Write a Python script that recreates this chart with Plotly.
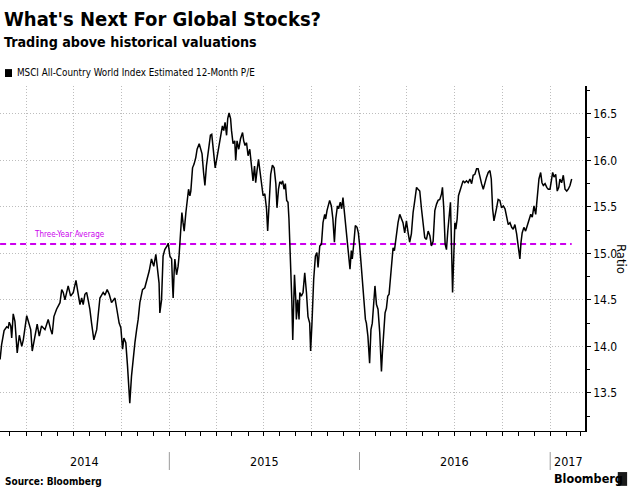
import pandas as pd
import plotly.graph_objs as go

# MSCI ACWI estimated 12-month P/E (time as fractional year)
frac_year = [
    2014.110, 2014.118, 2014.131, 2014.145, 2014.153, 2014.158, 2014.166, 2014.171, 2014.179, 2014.188,
    2014.200, 2014.211, 2014.224, 2014.232, 2014.250, 2014.263, 2014.271, 2014.279, 2014.293, 2014.305,
    2014.316, 2014.328, 2014.346, 2014.363, 2014.376, 2014.384, 2014.393, 2014.407, 2014.425, 2014.434,
    2014.442, 2014.451, 2014.468, 2014.481, 2014.495, 2014.509, 2014.521, 2014.530, 2014.539, 2014.547,
    2014.556, 2014.565, 2014.573, 2014.582, 2014.591, 2014.603, 2014.618, 2014.635, 2014.652, 2014.661,
    2014.673, 2014.684, 2014.696, 2014.705, 2014.714, 2014.723, 2014.736, 2014.745, 2014.754, 2014.761,
    2014.771, 2014.780, 2014.792, 2014.801, 2014.810, 2014.819, 2014.828, 2014.836, 2014.845, 2014.859,
    2014.871, 2014.883, 2014.894, 2014.906, 2014.918, 2014.929, 2014.940, 2014.946,
    2014.950, 2014.959, 2014.967, 2014.976, 2014.988, 2014.994, 2015.003, 2015.012, 2015.017, 2015.020,
    2015.025, 2015.029, 2015.038, 2015.046, 2015.051, 2015.059, 2015.066, 2015.072, 2015.078, 2015.087,
    2015.093, 2015.101, 2015.108, 2015.113, 2015.122, 2015.130, 2015.139, 2015.146, 2015.157, 2015.164,
    2015.172, 2015.180, 2015.187, 2015.195, 2015.206, 2015.216, 2015.223, 2015.232, 2015.241, 2015.248,
    2015.256, 2015.265, 2015.272, 2015.279, 2015.286, 2015.293, 2015.301, 2015.307, 2015.314, 2015.322,
    2015.327, 2015.335, 2015.344, 2015.349, 2015.356, 2015.365, 2015.374, 2015.385, 2015.391, 2015.398,
    2015.406, 2015.414, 2015.423, 2015.432, 2015.440, 2015.448, 2015.454, 2015.461, 2015.469, 2015.475,
    2015.484, 2015.493, 2015.502, 2015.511, 2015.517, 2015.524, 2015.533, 2015.542, 2015.551, 2015.560,
    2015.566, 2015.574, 2015.581, 2015.589, 2015.596, 2015.603, 2015.610, 2015.617, 2015.624, 2015.629,
    2015.637, 2015.644, 2015.649, 2015.658, 2015.665, 2015.668, 2015.675, 2015.682,
    2015.686, 2015.694, 2015.703, 2015.712, 2015.721, 2015.729, 2015.738, 2015.743, 2015.750, 2015.759,
    2015.768, 2015.776, 2015.782, 2015.791, 2015.800, 2015.808, 2015.817, 2015.822, 2015.829, 2015.838,
    2015.843, 2015.852, 2015.860, 2015.868, 2015.875, 2015.884, 2015.890, 2015.899, 2015.906, 2015.913,
    2015.920, 2015.927, 2015.936, 2015.944, 2015.950, 2015.957, 2015.962, 2015.971, 2015.978, 2015.987,
    2015.994, 2016.001, 2016.008, 2016.015, 2016.023, 2016.031, 2016.036, 2016.044, 2016.053, 2016.060,
    2016.067, 2016.074, 2016.081, 2016.089, 2016.097, 2016.106, 2016.115, 2016.120, 2016.127, 2016.134,
    2016.141, 2016.148, 2016.155, 2016.162, 2016.169, 2016.176, 2016.183, 2016.194, 2016.202, 2016.211,
    2016.220, 2016.228, 2016.237, 2016.246, 2016.255, 2016.263, 2016.272, 2016.281, 2016.290, 2016.299,
    2016.307,
    2016.316, 2016.325, 2016.333, 2016.342, 2016.351, 2016.360, 2016.369, 2016.377, 2016.386, 2016.395,
    2016.404, 2016.412, 2016.421, 2016.430, 2016.435, 2016.442, 2016.449, 2016.456, 2016.463, 2016.470,
    2016.477, 2016.483, 2016.488, 2016.495, 2016.500, 2016.505, 2016.512, 2016.519, 2016.526, 2016.535,
    2016.543, 2016.552, 2016.561, 2016.570, 2016.579, 2016.588, 2016.596, 2016.605, 2016.614, 2016.622,
    2016.631, 2016.640, 2016.649, 2016.657, 2016.666, 2016.675, 2016.684, 2016.691, 2016.698, 2016.705,
    2016.712, 2016.719, 2016.727, 2016.736, 2016.745, 2016.754, 2016.763, 2016.771, 2016.780, 2016.789,
    2016.798, 2016.806, 2016.815, 2016.824, 2016.832, 2016.841, 2016.847, 2016.853, 2016.862, 2016.871,
    2016.880, 2016.889, 2016.898, 2016.906, 2016.915, 2016.924, 2016.932, 2016.941, 2016.950, 2016.957,
    2016.964, 2016.973, 2016.982, 2016.990, 2016.999, 2017.008, 2017.013, 2017.020, 2017.029, 2017.037,
    2017.045, 2017.051, 2017.060, 2017.069, 2017.078, 2017.087, 2017.095, 2017.104, 2017.113,
]

pe_ratio = [
    13.86, 14.02, 14.17, 14.21, 14.20, 14.26, 14.22, 14.09, 14.35, 14.27,
    13.93, 14.12, 14.00, 14.07, 14.33, 14.24, 14.18, 13.95, 14.11, 14.24,
    14.11, 14.22, 14.18, 14.29, 14.18, 14.13, 14.32, 14.40, 14.47, 14.61,
    14.58, 14.50, 14.65, 14.54, 14.58, 14.71, 14.56, 14.45, 14.52, 14.45,
    14.56, 14.58, 14.50, 14.40, 14.25, 14.07, 14.18, 14.52, 14.58, 14.55,
    14.61, 14.56, 14.47, 14.50, 14.52, 14.41, 14.25, 14.20, 13.97, 14.09,
    14.04, 13.79, 13.39, 13.68, 13.88, 14.04, 14.18, 14.29, 14.47, 14.61,
    14.63, 14.72, 14.81, 14.94, 14.86, 14.99, 14.77, 14.68,
    14.36, 14.50, 14.97, 15.04, 15.08, 15.11, 14.97, 14.94, 14.65, 14.52,
    14.79, 14.94, 14.77, 14.86, 14.97, 15.30, 15.44, 15.33, 15.24, 15.44,
    15.58, 15.69, 15.62, 15.67, 15.92, 15.96, 16.03, 16.12, 16.18, 16.13,
    16.07, 15.87, 15.73, 15.94, 16.09, 16.27, 16.28, 16.09, 15.92, 16.00,
    16.09, 16.21, 16.27, 16.37, 16.32, 16.41, 16.27, 16.45, 16.51, 16.45,
    16.32, 16.18, 16.21, 16.00, 16.21, 16.12, 16.23, 16.30, 16.21, 16.16,
    16.19, 16.05, 16.12, 15.89, 15.78, 15.94, 15.76, 15.89, 16.01, 15.91,
    15.78, 15.62, 15.64, 15.48, 15.24, 15.51, 15.85, 15.95, 15.92, 15.75,
    15.49, 15.69, 15.77, 15.75, 15.78, 15.69, 15.75, 15.57, 15.55, 15.37,
    14.97, 14.50, 14.07, 14.77, 14.50, 14.29, 14.50, 14.29,
    14.58, 14.54, 14.58, 14.79, 14.58, 14.32, 14.25, 13.95, 14.25, 14.72,
    14.97, 15.01, 14.85, 15.08, 15.10, 15.33, 15.42, 15.37, 15.46, 15.53,
    15.57, 15.51, 15.37, 15.12, 15.37, 15.51, 15.48, 15.55, 15.48, 15.60,
    15.46, 15.30, 15.17, 14.97, 14.83, 15.03, 14.94, 15.13, 15.30, 15.28,
    15.22, 15.08, 14.88, 14.72, 14.43, 14.29, 14.25, 14.11, 13.82, 14.18,
    14.25, 14.47, 14.65, 14.45, 14.40, 14.15, 13.73, 13.93, 14.18, 14.36,
    14.41, 14.54, 14.56, 14.72, 14.90, 15.06, 15.03, 15.22, 15.33, 15.42,
    15.37, 15.33, 15.22, 15.35, 15.22, 15.12, 15.21, 15.44, 15.57, 15.71,
    15.69,
    15.67, 15.48, 15.33, 15.17, 15.15, 15.24, 15.19, 15.08, 15.13, 15.46,
    15.53, 15.57, 15.58, 15.64, 15.71, 15.48, 15.10, 15.04, 15.24, 15.37,
    15.55, 15.03, 14.58, 15.01, 15.33, 15.26, 15.37, 15.62, 15.67, 15.73,
    15.78, 15.76, 15.78, 15.76, 15.80, 15.75, 15.84, 15.85, 15.91, 15.91,
    15.82, 15.75, 15.69, 15.76, 15.82, 15.87, 15.89, 15.80, 15.48, 15.35,
    15.44, 15.49, 15.58, 15.57, 15.49, 15.51, 15.48, 15.39, 15.31, 15.33,
    15.28, 15.26, 15.31, 15.21, 15.10, 14.94, 15.12, 15.22, 15.28, 15.24,
    15.30, 15.35, 15.42, 15.39, 15.51, 15.42, 15.58, 15.80, 15.87, 15.76,
    15.73, 15.75, 15.71, 15.69, 15.69, 15.82, 15.87, 15.82, 15.85, 15.67,
    15.71, 15.80, 15.76, 15.84, 15.69, 15.67, 15.69, 15.73, 15.80,
]

three_year_avg = 15.1
year_labels = ["2014", "2015", "2016", "2017"]
y_ticks = [13.5, 14.0, 14.5, 15.0, 15.5, 16.0, 16.5]

FONT = "DejaVu Sans Condensed, DejaVu Sans, sans-serif"
AVG_COLOR = "#cc00ee"
GRID = "#bdbdbd"


def to_date(fy):
    yr = int(fy)
    start = pd.Timestamp(year=yr, month=1, day=1)
    n_days = (pd.Timestamp(year=yr + 1, month=1, day=1) - start).days
    return start + pd.Timedelta(days=(fy - yr) * n_days)


dates = [to_date(v) for v in frac_year]
x_start, x_end = to_date(2014.1095), to_date(2017.183)

fig = go.Figure()
fig.add_trace(go.Scatter(x=[dates[0], dates[-1]], y=[three_year_avg] * 2, mode="lines",
                         line=dict(color=AVG_COLOR, width=2, dash="6px,4px"), hoverinfo="skip"))
fig.add_trace(go.Scatter(x=dates, y=pe_ratio, mode="lines", line=dict(color="black", width=1.5),
                         name="MSCI ACWI P/E"))

fig.update_xaxes(type="date", range=[x_start, x_end],
                 tick0="2014-01-01", dtick="M3", ticks="outside", ticklen=4, tickcolor="black",
                 showticklabels=False, showgrid=True, gridcolor=GRID, griddash="1px,2px", gridwidth=1,
                 minor=dict(dtick="M1", ticks="outside", ticklen=4, tickcolor="black", showgrid=False),
                 showline=True, linecolor="black", linewidth=1, zeroline=False)
fig.update_yaxes(side="right", range=[13.09, 16.80], tickvals=y_ticks, tickformat=".1f",
                 ticks="outside", ticklen=4, tickcolor="black", tickfont=dict(size=12, family=FONT),
                 showgrid=True, gridcolor=GRID, griddash="1px,2px", gridwidth=1,
                 minor=dict(tick0=13.25, dtick=0.5, ticks="outside", ticklen=3, tickcolor="black",
                            showgrid=False),
                 showline=True, linecolor="black", linewidth=1.5, zeroline=False)

ann = []
ann.append(dict(text="<b>What's Next For Global Stocks?</b>", x=0.0034, y=1.194, font=dict(size=20)))
ann.append(dict(text="<b>Trading above historical valuations</b>", x=0.0034, y=1.128, font=dict(size=14.2)))
ann.append(dict(text="MSCI All-Country World Index Estimated 12-Month P/E", x=0.0256, y=1.038,
                font=dict(size=9.8)))
ann.append(dict(text="<b>Source: Bloomberg</b>", x=0.005, y=-0.145, font=dict(size=10)))
ann.append(dict(text="<b>Bloomberg</b>", x=0.944, y=-0.139, font=dict(size=12.5)))
for a in ann:
    a.update(xref="paper", yref="paper", xanchor="left", yanchor="middle", showarrow=False)

ann.append(dict(text="Ratio", x=1.0615, y=0.4986, xref="paper", yref="paper", textangle=90,
                xanchor="center", yanchor="middle", showarrow=False, font=dict(size=13)))
ann.append(dict(text="Three-Year Average", x=to_date(2014.276), y=three_year_avg, xref="x", yref="y",
                xanchor="left", yanchor="bottom", yshift=3, showarrow=False,
                font=dict(size=8, color=AVG_COLOR)))

# year labels centred in the visible part of each year, the last one left-aligned
for lab in year_labels:
    yr = int(lab)
    lo = max(pd.Timestamp(year=yr, month=1, day=1), x_start)
    hi = min(pd.Timestamp(year=yr + 1, month=1, day=1), x_end)
    if yr == 2017:
        ann.append(dict(text=lab, x=lo + pd.Timedelta(days=3), xanchor="left"))
    else:
        ann.append(dict(text=lab, x=lo + (hi - lo) / 2, xanchor="center"))
    ann[-1].update(y=-0.087, xref="x", yref="paper", yanchor="middle", showarrow=False,
                   font=dict(size=12.5))

shapes = []
for yr in (2015, 2016, 2017):
    shapes.append(dict(type="line", xref="x", yref="paper", x0=f"{yr}-01-01", x1=f"{yr}-01-01",
                       y0=-0.061, y1=-0.113, line=dict(color="#9a9a9a", width=1)))
# legend swatch
shapes.append(dict(type="rect", xref="paper", yref="paper", x0=0.0085, x1=0.0205, y0=1.026, y1=1.049,
                   fillcolor="black", line=dict(width=0)))
# logo mark
shapes.append(dict(type="rect", xref="paper", yref="paper", x0=1.056, x1=1.072, y0=-0.159, y1=-0.119,
                   fillcolor="#1a1a1a", line=dict(width=0)))

fig.update_layout(
    width=630, height=490,
    margin=dict(l=0, r=45, t=86, b=59),
    plot_bgcolor="white", paper_bgcolor="white",
    showlegend=False,
    font=dict(family=FONT, color="black"),
    annotations=ann,
    shapes=shapes,
)

fig.write_html("out.html", config={"displayModeBar": False},
               post_script="document.body.style.margin = '0';")
